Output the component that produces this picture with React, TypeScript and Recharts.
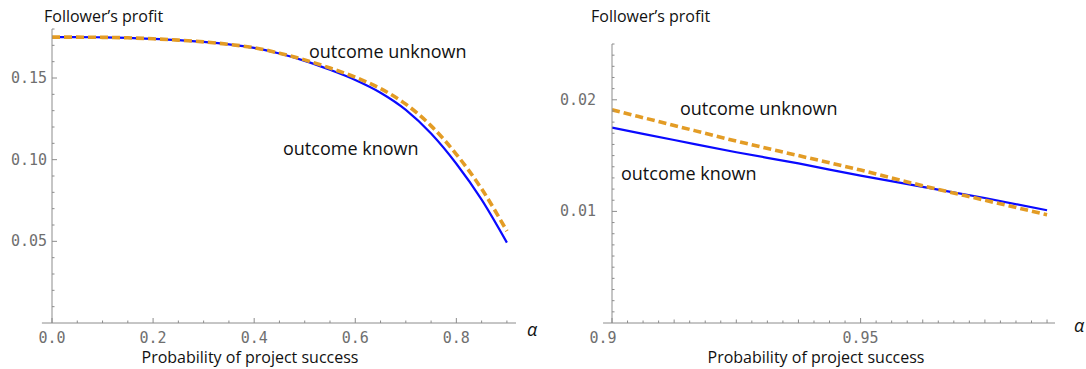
import React from "react";
import { LineChart, Line, XAxis, YAxis, ReferenceLine } from "recharts";

// left panel: alpha from 0 to 0.9
const leftAlpha = [0, 0.05, 0.1, 0.15, 0.2, 0.25, 0.3, 0.35, 0.4, 0.45, 0.5, 0.55, 0.6, 0.65, 0.7, 0.75, 0.8, 0.85, 0.9];
const leftKnown = [0.175, 0.175, 0.1749, 0.1746, 0.174, 0.1732, 0.1721, 0.1706, 0.1684, 0.165, 0.1605, 0.155, 0.1488, 0.141, 0.1305, 0.116, 0.0975, 0.0755, 0.0492];
const leftUnknown = [0.175, 0.175, 0.1749, 0.1746, 0.174, 0.1732, 0.1721, 0.1706, 0.1685, 0.1652, 0.1611, 0.1561, 0.1505, 0.1435, 0.134, 0.1207, 0.1033, 0.0821, 0.0563];

// right panel: zoom on alpha 0.9 .. 0.9875
const rightAlpha = [0.9, 0.9125, 0.925, 0.9375, 0.95, 0.9625, 0.975, 0.9875];
const rightKnown = [0.0175, 0.0164, 0.0153, 0.0143, 0.0132, 0.0122, 0.0112, 0.0101];
const rightUnknown = [0.0191, 0.0177, 0.0163, 0.015, 0.0137, 0.0123, 0.011, 0.0097];

const leftXMajor = [0, 0.2, 0.4, 0.6, 0.8];
const leftXLabels = ["0.0", "0.2", "0.4", "0.6", "0.8"];
const leftYMajor = [0.05, 0.1, 0.15];
const leftYLabels = ["0.05", "0.10", "0.15"];
const rightXMajor = [0.9, 0.95];
const rightXLabels = ["0.9", "0.95"];
const rightYMajor = [0.01, 0.02];
const rightYLabels = ["0.01", "0.02"];

const steps = (from: number, to: number, step: number) => {
  const out: number[] = [];
  for (let i = 0; from + i * step <= to + 1e-9; i++) out.push(+(from + i * step).toFixed(6));
  return out;
};

const leftXTicks = steps(0, 0.9, 0.05);
const leftYTicks = steps(0.01, 0.18, 0.01);
const rightXTicks = steps(0.9, 0.9875, 0.003125);
const rightYTicks = steps(0.001, 0.025, 0.001);

const AXIS = "#8c8c8c";
const TICK_TEXT = "#6f6f6f";
const BLUE = "#0a0aff";
const ORANGE = "#e39c25";
const MONO = "'DejaVu Sans Mono', monospace";
const SANS = "'Open Sans', sans-serif";

const idx = (arr: number[], v: number) => arr.findIndex((m) => Math.abs(m - v) < 1e-7);

function XTick(props: any) {
  const { x, y, payload, majors, labels, medium, firstDx = 0 } = props;
  const i = idx(majors, payload.value);
  const isMedium = medium && idx(medium, payload.value) >= 0;
  const len = i >= 0 ? 5 : isMedium ? 3.5 : 2.5;
  return (
    <g>
      <line x1={x} x2={x} y1={y} y2={y - len} stroke={AXIS} strokeWidth={1} />
      {i >= 0 && (
        <text x={x + (i === 0 ? firstDx : 0)} y={y + 15} textAnchor="middle" dominantBaseline="central" fill={TICK_TEXT} fontFamily={MONO} fontSize={15}>
          {labels[i]}
        </text>
      )}
    </g>
  );
}

function YTick(props: any) {
  const { x, y, payload, majors, labels, gap } = props;
  const i = idx(majors, payload.value);
  const len = i >= 0 ? 5 : 2.5;
  return (
    <g>
      <line x1={x} x2={x + len} y1={y} y2={y} stroke={AXIS} strokeWidth={1} />
      {i >= 0 && (
        <text x={x - gap} y={y} textAnchor="end" dominantBaseline="central" fill={TICK_TEXT} fontFamily={MONO} fontSize={15}>
          {labels[i]}
        </text>
      )}
    </g>
  );
}

const leftRows = leftAlpha.map((a, i) => ({ alpha: a, known: leftKnown[i], unknown: leftUnknown[i] }));
const rightRows = rightAlpha.map((a, i) => ({ alpha: a, known: rightKnown[i], unknown: rightUnknown[i] }));

function Panel({ rows, width, margin, xDomain, yDomain, xTicks, yTicks, xMajor, xLabels, yMajor, yLabels, xMedium, yGap, axisStub, firstDx }: any) {
  return (
    <LineChart width={width} height={369} data={rows} margin={margin}>
      <XAxis
        type="number"
        dataKey="alpha"
        domain={xDomain}
        allowDataOverflow
        ticks={xTicks}
        interval={0}
        height={1}
        tickSize={0}
        tickMargin={0}
        tickLine={false}
        axisLine={{ stroke: AXIS }}
        tick={(p: any) => <XTick {...p} majors={xMajor} labels={xLabels} medium={xMedium} firstDx={firstDx} />}
      />
      <YAxis
        type="number"
        domain={yDomain}
        allowDataOverflow
        ticks={yTicks}
        interval={0}
        width={1}
        tickSize={0}
        tickMargin={0}
        tickLine={false}
        axisLine={{ stroke: AXIS }}
        tick={(p: any) => <YTick {...p} majors={yMajor} labels={yLabels} gap={yGap} />}
      />
      <ReferenceLine segment={[{ x: axisStub, y: 0 }, { x: xDomain[0], y: 0 }]} stroke={AXIS} ifOverflow="visible" />
      <Line type="monotone" dataKey="known" stroke={BLUE} strokeWidth={2.2} dot={false} isAnimationActive={false} />
      <Line type="monotone" dataKey="unknown" stroke={ORANGE} strokeWidth={3.6} strokeDasharray="8 4" dot={false} isAnimationActive={false} />
    </LineChart>
  );
}

const notes = [
  { text: "Follower\u2019s profit", x: 44, y: 16, size: 16, anchor: "start" },
  { text: "outcome unknown", x: 309, y: 51, size: 18, anchor: "start" },
  { text: "outcome known", x: 283, y: 148, size: 18, anchor: "start" },
  { text: "Probability of project success", x: 250, y: 357, size: 16, anchor: "middle" },
  { text: "Follower\u2019s profit", x: 591, y: 16, size: 16, anchor: "start" },
  { text: "outcome unknown", x: 680, y: 108, size: 18, anchor: "start" },
  { text: "outcome known", x: 621, y: 173, size: 18, anchor: "start" },
  { text: "Probability of project success", x: 816, y: 357, size: 16, anchor: "middle" },
];

export default function App() {
  return (
    <div style={{ position: "absolute", left: 0, top: 0, width: 1086, height: 369, background: "#fff", overflow: "hidden" }}>
      <div style={{ position: "absolute", left: 0, top: 0 }}>
        <Panel
          rows={leftRows}
          width={545}
          margin={{ top: 29, right: 29, bottom: 45, left: 51 }}
          xDomain={[0, 0.918]}
          yDomain={[0, 0.18]}
          xTicks={leftXTicks}
          yTicks={leftYTicks}
          xMajor={leftXMajor}
          xLabels={leftXLabels}
          yMajor={leftYMajor}
          yLabels={leftYLabels}
          yGap={5}
          axisStub={-0.02}
        />
      </div>
      <div style={{ position: "absolute", left: 545, top: 0 }}>
        <Panel
          rows={rightRows}
          width={541}
          margin={{ top: 44, right: 31, bottom: 45, left: 66 }}
          xDomain={[0.9, 0.9891]}
          yDomain={[0, 0.025]}
          xTicks={rightXTicks}
          yTicks={rightYTicks}
          xMajor={rightXMajor}
          xLabels={rightXLabels}
          xMedium={steps(0.9, 0.9875, 0.0125)}
          yMajor={rightYMajor}
          yLabels={rightYLabels}
          yGap={16}
          axisStub={0.8982}
          firstDx={-9}
        />
      </div>
      <svg width={1086} height={369} style={{ position: "absolute", left: 0, top: 0, pointerEvents: "none" }}>
        {notes.map((n, i) => (
          <text key={i} x={n.x} y={n.y} textAnchor={n.anchor as any} dominantBaseline="central" fontFamily={SANS} fontSize={n.size} fill="#111">
            {n.text}
          </text>
        ))}
        <text x={532} y={329} textAnchor="middle" dominantBaseline="central" fontFamily={SANS} fontStyle="italic" fontSize={18} fill="#111">
          α
        </text>
        <text x={1074} y={325} textAnchor="start" dominantBaseline="central" fontFamily={SANS} fontStyle="italic" fontSize={18} fill="#111">
          α
        </text>
      </svg>
    </div>
  );
}
